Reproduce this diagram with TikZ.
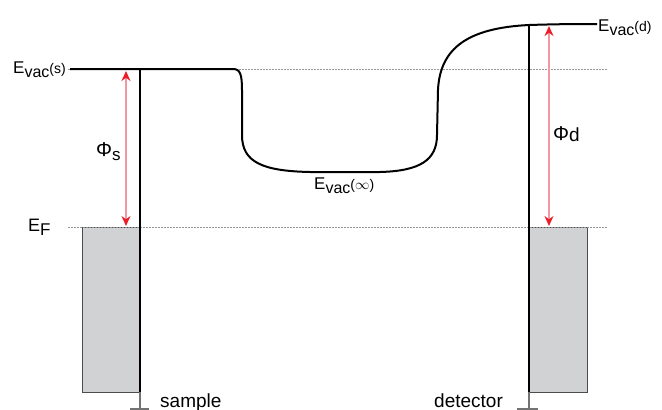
\documentclass[tikz,border=0pt]{standalone}
\usepackage{fontspec}
\setmainfont{Liberation Sans}
\usetikzlibrary{arrows.meta}
\definecolor{boxgray}{RGB}{209,210,212}
\definecolor{dotgray}{RGB}{150,150,150}
\definecolor{pinkline}{RGB}{244,150,160}
\definecolor{arrowred}{RGB}{235,30,40}
\newcommand{\fs}[1]{\fontsize{#1}{#1}\selectfont}
\newcommand{\Evaclabel}[1]{{\fs{17}E}\raisebox{-4pt}{\fs{16}vac}{\fs{14}(#1)}}
\tikzset{
  dotline/.style={dotgray, line width=1pt, dash pattern=on 1.6pt off 1.4pt},
  evac/.style={black, line width=2pt},
  wall/.style={black, line width=1.4pt},
  band/.style={fill=boxgray, draw=black!70, line width=1pt},
  stem/.style={black!55, line width=1.5pt},
  wf/.style={pinkline, line width=1.4pt, {Stealth[color=arrowred,length=10pt,width=9pt]}-{Stealth[color=arrowred,length=10pt,width=9pt]}},
  lab/.style={inner sep=0pt, anchor=base west}
}
\begin{document}
\begin{tikzpicture}[x=1pt,y=-1pt]
\useasboundingbox (0,0) rectangle (662,410);
% coordinates
\coordinate (dotLa) at (68,69);
\coordinate (dotLb) at (607,69);
\coordinate (dotFa) at (68,227);
\coordinate (dotFb) at (607,227);
% bands
\node[band, minimum width=58pt, minimum height=165pt, inner sep=0pt, anchor=north west] (sbox) at (82,227) {};
\node[band, minimum width=58pt, minimum height=165pt, inner sep=0pt, anchor=north west] (dbox) at (529,227) {};
% dotted reference lines
\draw[dotline] (dotLa) -- (dotLb);
\draw[dotline] (dotFa) -- (dotFb);
% sample wall and ground
\coordinate (stop) at (140,69);
\coordinate (sbot) at (140,392);
\coordinate (sgnd) at (140,409);
\coordinate (sgl) at (130,409);
\coordinate (sgr) at (149,409);
\draw[wall] (stop) -- (sbot);
\draw[stem] (sbot) -- (sgnd);
\draw[stem, line width=1.2pt] (sgl) -- (sgr);
% detector wall and ground
\coordinate (dtop) at (529,25);
\coordinate (dbot) at (529,392);
\coordinate (dgnd) at (529,409);
\coordinate (dgl) at (517,409);
\coordinate (dgr) at (538,409);
\draw[wall] (dtop) -- (dbot);
\draw[stem] (dbot) -- (dgnd);
\draw[stem, line width=1.2pt] (dgl) -- (dgr);
% vacuum level curve
\coordinate (vs) at (70,69);
\coordinate (vd) at (597,24);
\draw[evac] (vs) -- (233,69) .. controls (240,69) and (242,74) .. (242,90)
  -- (242,135) .. controls (242,162) and (262,171) .. (310,172)
  -- (380,172) .. controls (420,171) and (437,160) .. (437,135)
  -- (438,90) .. controls (440,48) and (468,28) .. (529,25)
  .. controls (560,24) and (580,24) .. (vd);
% work function arrows
\coordinate (as1) at (126,71);
\coordinate (as2) at (126,226);
\coordinate (ad1) at (549,26);
\coordinate (ad2) at (549,226);
\draw[wf] (as1) -- (as2);
\draw[wf] (ad1) -- (ad2);
% labels
\node[inner sep=0pt, anchor=base east] (lEs) at (66,73) {\Evaclabel{s}};
\node[lab] (lEinf) at (314,189) {\Evaclabel{$\infty$}};
\node[lab] (lEd) at (598,31) {\Evaclabel{d}};
\node[lab] (lEF) at (28,231) {{\fs{18}E}\raisebox{-4pt}{\fs{17}F}};
\node[lab] (lPs) at (96,156) {{\fs{20}Φ}\raisebox{-4pt}{\fs{17}s}};
\node[lab] (lPd) at (553,140) {{\fs{20}Φ}\raisebox{-1pt}{\fs{19}d}};
\node[lab] (lsample) at (160,407) {\fs{19}sample};
\node[lab] (ldet) at (434,407) {\fs{19}detector};
\end{tikzpicture}
\end{document}
